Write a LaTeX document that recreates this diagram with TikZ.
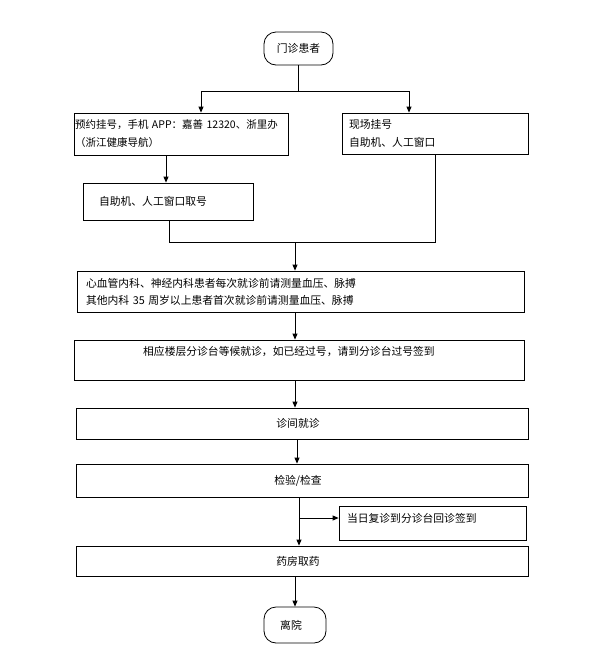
\documentclass[tikz,border=0pt]{standalone}
\usepackage{fontspec}
\usepackage{xcolor}
\usepackage{tikz}
\usetikzlibrary{positioning, arrows.meta}
\newfontfamily\cjk{Noto Sans CJK SC}
\definecolor{fInk}{HTML}{000000}
\definecolor{fFill}{HTML}{FFFFFF}

\begin{document}
\begin{tikzpicture}[x=1pt, y=-1pt, >={Triangle[length=6pt, width=5pt]},
  every node/.style={font=\cjk\fontsize{10.8}{18}\selectfont, text=fInk},
  term/.style={draw=fInk, fill=fFill, line width=0.8pt, rounded corners=12pt, inner sep=0pt},
  stepbox/.style={draw=fInk, fill=fFill, line width=0.8pt, inner sep=0pt},
  link/.style={draw=fInk, line width=0.8pt}]
  \useasboundingbox (0,0) rectangle (596,657);
  % terminals
  \node[term, minimum width=69pt, minimum height=33pt] (start) at (298.5,48.5) {门诊患者};
  \node[term, minimum width=62pt, minimum height=36pt] (leave) at (295,625) {\hspace*{-8pt}离院};
  % registration
  \node[stepbox, minimum width=214pt, minimum height=42pt, text width=212pt, inner xsep=1pt, align=left, font=\cjk\fontsize{10.5}{18}\selectfont]
    (book) at (181,134) {预约挂号，手机 APP：嘉善 12320、浙里办\\（浙江健康导航）};
  \node[stepbox, minimum width=186pt, minimum height=41pt, text width=172pt, inner xsep=7pt, align=left]
    (walkin) at (435,133.5) {现场挂号\\自助机、人工窗口};
  \node[stepbox, minimum width=170pt, minimum height=37pt, text width=138pt, inner xsep=16pt, align=left]
    (fetch) at (168,201.5) {自助机、人工窗口取号};
  % main chain
  \node[stepbox, minimum width=447pt, minimum height=41pt, text width=429pt, inner xsep=9pt, align=left, font=\cjk\fontsize{10.8}{17}\selectfont]
    (pulse) at (300.5,291.5) {心血管内科、神经内科患者每次就诊前请测量血压、脉搏\\其他内科 35 周岁以上患者首次就诊前请测量血压、脉搏};
  \node[stepbox, minimum width=450pt, minimum height=40pt, text width=430pt, inner xsep=10pt, align=center]
    (wait) at (299,360) {\hspace*{-20pt}相应楼层分诊台等候就诊，如已经过号，请到分诊台过号签到\\~};
  \foreach \n/\y/\h/\t in {visit/423.5/31/{诊间就诊}, exam/480.5/33/{检验/检查}, pharm/561/30/{药房取药}}
    {\node[stepbox, minimum width=452pt, minimum height=\h pt] (\n) at (302,\y) {\hspace*{-8pt}\t};}
  \node[stepbox, minimum width=187pt, minimum height=34pt, text width=171pt, inner xsep=8pt, align=left]
    (recheck) at (432.5,523) {当日复诊到分诊台回诊签到\\[-8pt]~};
  % connectors
  \coordinate (split) at (298.5,91);
  \coordinate (merge) at (295,242);
  \coordinate (branch) at (299,518);
  \draw[link] (start) -- (split);
  \draw[link, ->] (split) -| ([xshift=20pt]book.north);
  \draw[link, ->] (split) -| ([xshift=-26pt]walkin.north);
  \draw[link, ->] ([xshift=-15pt]book.south) -- ([xshift=-15pt]book.south |- fetch.north);
  \draw[link] ([xshift=1pt]fetch.south) |- (merge -| walkin.south) -- (walkin.south);
  \draw[link, ->] (merge) -- (merge |- pulse.north);
  \draw[link, ->] (pulse.south -| merge) -- (wait.north -| merge);
  \draw[link, ->] (wait.south -| merge) -- (visit.north -| merge);
  \draw[link, ->] ([xshift=-5pt]visit.south) -- ([xshift=-5pt]exam.north);
  \draw[link, ->] (exam.south -| branch) -- (pharm.north -| branch);
  \draw[link, ->] (branch) -- (branch -| recheck.west);
  \draw[link, ->] (pharm.south -| leave) -- (leave);
\end{tikzpicture}
\end{document}
